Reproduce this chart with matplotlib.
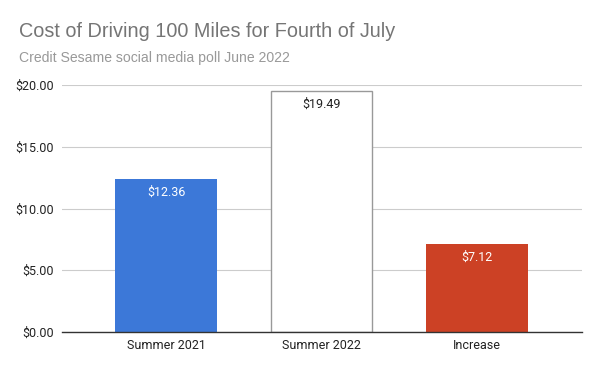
import matplotlib.pyplot as plt
import numpy as np

categories = ['Summer 2021', 'Summer 2022', 'Increase']
costs = [12.36, 19.49, 7.12]
bar_colors = ['#3c78d8', '#ffffff', '#cc4125']
label_colors = ['white', '#222222', 'white']
yticks = [0, 5, 10, 15, 20]

fig = plt.figure(figsize=(6, 3.71), dpi=100)
ax = fig.add_axes([0.1033, 0.1051, 0.8667, 0.6658])

x = np.arange(len(categories))
bars = ax.bar(x, costs, width=0.65, color=bar_colors, zorder=3)
bars[1].set_edgecolor('#999999')
bars[1].set_linewidth(1.0)

for b, v, c in zip(bars, costs, label_colors):
    ax.text(b.get_x() + b.get_width() / 2, v - 0.55, f'${v:.2f}', ha='center', va='top',
            fontsize=9, color=c, family='Roboto', zorder=4)

ax.set_xlim(-0.669, 2.675)
ax.set_ylim(0, 20)
ax.set_yticks(yticks)
ax.set_yticklabels([f'${t:.2f}' for t in yticks], family='Roboto', fontsize=9, color='#222222')
ax.set_xticks(x)
ax.set_xticklabels(categories, family='Roboto', fontsize=9, color='#222222')
ax.tick_params(length=0, pad=6)
ax.tick_params(axis='x', pad=5)
ax.grid(axis='y', color='#cccccc', linewidth=0.8, zorder=0)
for s in ['top', 'right', 'left']:
    ax.spines[s].set_visible(False)
ax.spines['bottom'].set_color('#333333')
ax.spines['bottom'].set_linewidth(1.0)
ax.spines['bottom'].set_zorder(5)

fig.text(0.032, 0.916, 'Cost of Driving 100 Miles for Fourth of July', fontsize=14.3,
         color='#757575', family='Liberation Sans', va='center')
fig.text(0.032, 0.843, 'Credit Sesame social media poll June 2022', fontsize=10.1,
         color='#999999', family='Liberation Sans', va='center')

plt.savefig('out.png', dpi=100)
